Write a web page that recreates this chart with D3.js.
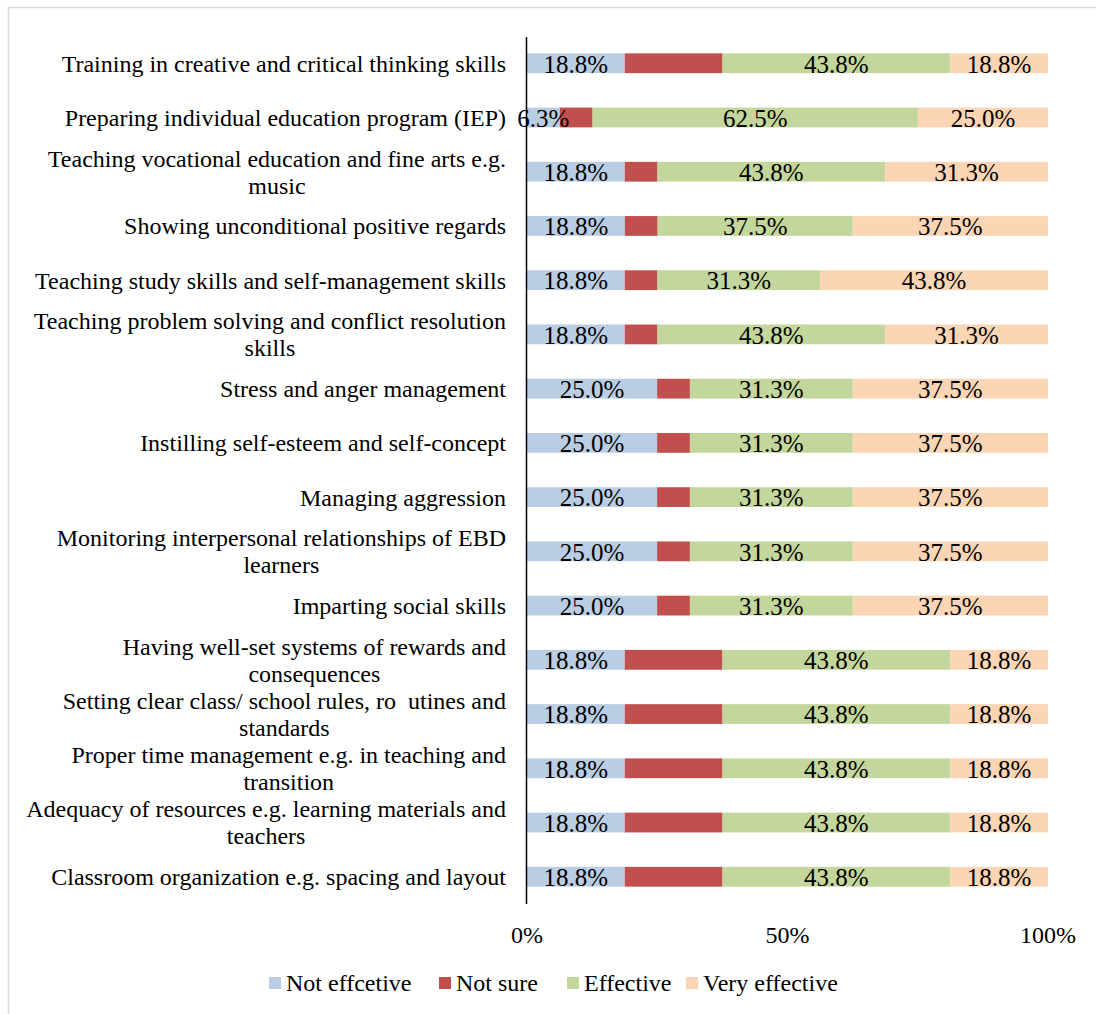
<!DOCTYPE html>
<html>
<head>
<meta charset="utf-8">
<script src="https://cdn.jsdelivr.net/npm/d3@7"></script>
<style>
  html, body { margin: 0; padding: 0; background: #fff; }
  svg { display: block; font-family: 'Liberation Serif', 'Times New Roman', serif; }
  text { white-space: pre; }
</style>
</head>
<body>
<div id="chart"></div>
<script>
const categories = [
  'Training in creative and critical thinking skills',
  'Preparing individual education program (IEP)',
  'Teaching vocational education and fine arts e.g.\nmusic',
  'Showing unconditional positive regards',
  'Teaching study skills and self-management skills',
  'Teaching problem solving and conflict resolution\nskills',
  'Stress and anger management',
  'Instilling self-esteem and self-concept',
  'Managing aggression',
  'Monitoring interpersonal relationships of EBD\nlearners',
  'Imparting social skills',
  'Having well-set systems of rewards and\nconsequences',
  'Setting clear class/ school rules, ro  utines and\nstandards',
  'Proper time management e.g. in teaching and\ntransition',
  'Adequacy of resources e.g. learning materials and\nteachers',
  'Classroom organization e.g. spacing and layout'
]

const seriesNames = ['Not effcetive', 'Not sure', 'Effective', 'Very effective']
const seriesColors = ['#B9CDE5', '#C0504D', '#C3D69B', '#FCD5B5']
const showLabels = [true, false, true, true]

const notEffective  = [18.8, 6.3, 18.8, 18.8, 18.8, 18.8, 25.0, 25.0, 25.0, 25.0, 25.0, 18.8, 18.8, 18.8, 18.8, 18.8]
const notSure       = [18.8, 6.3, 6.3, 6.3, 6.3, 6.3, 6.3, 6.3, 6.3, 6.3, 6.3, 18.8, 18.8, 18.8, 18.8, 18.8]
const effective     = [43.8, 62.5, 43.8, 37.5, 31.3, 43.8, 31.3, 31.3, 31.3, 31.3, 31.3, 43.8, 43.8, 43.8, 43.8, 43.8]
const veryEffective = [18.8, 25.0, 31.3, 37.5, 43.8, 31.3, 37.5, 37.5, 37.5, 37.5, 37.5, 18.8, 18.8, 18.8, 18.8, 18.8]

const xTicks = [0, 0.5, 1]

const width = 1096
const height = 1014
const marginLeft = 527
const marginRight = 48
const marginTop = 36
const plotHeight = 868

const svg = d3.select('#chart').append('svg')
  .attr('width', width)
  .attr('height', height)

// chart border
svg.append('rect')
  .attr('x', 8.5).attr('y', 7.5)
  .attr('width', 1200).attr('height', 1200)
  .attr('fill', 'none')
  .attr('stroke', '#d9d9d9')
  .attr('stroke-width', 1.5)

const rows = categories.map((c, i) => {
  const vals = [notEffective[i], notSure[i], effective[i], veryEffective[i]]
  const total = d3.sum(vals)
  return { key: c, vals, total }
})

const x = d3.scaleLinear()
  .domain([0, 1])
  .range([marginLeft, width - marginRight])

const y = d3.scaleBand()
  .domain(categories)
  .range([marginTop, marginTop + plotHeight])
  .paddingInner(0.635)
  .paddingOuter(0.32)

const stackData = rows.map(r => {
  let acc = 0
  return r.vals.map((v, s) => {
    const seg = { key: r.key, s, v, x0: acc / r.total, x1: (acc + v) / r.total }
    acc += v
    return seg
  })
}).flat()

const g = svg.append('g')

g.selectAll('rect.seg')
  .data(stackData)
  .enter()
  .append('rect')
  .attr('class', 'seg')
  .attr('x', d => x(d.x0))
  .attr('y', d => y(d.key))
  .attr('width', d => x(d.x1) - x(d.x0))
  .attr('height', y.bandwidth())
  .attr('fill', d => seriesColors[d.s])

g.selectAll('text.val')
  .data(stackData.filter(d => showLabels[d.s]))
  .enter()
  .append('text')
  .attr('class', 'val')
  .attr('x', d => (x(d.x0) + x(d.x1)) / 2)
  .attr('y', d => y(d.key) + y.bandwidth() / 2)
  .attr('dy', '0.37em')
  .attr('text-anchor', 'middle')
  .attr('font-size', 25)
  .attr('fill', '#000')
  .text(d => d.v.toFixed(1) + '%')

// vertical axis line
svg.append('line')
  .attr('x1', marginLeft - 0.5).attr('x2', marginLeft - 0.5)
  .attr('y1', marginTop + 1).attr('y2', marginTop + plotHeight)
  .attr('stroke', '#000')
  .attr('stroke-width', 1.5)

// category labels
const catLabels = svg.selectAll('text.cat')
  .data(categories)
  .enter()
  .append('text')
  .attr('class', 'cat')
  .attr('font-size', 24)
  .attr('fill', '#000')
  .attr('text-anchor', 'middle')

const labelRight = marginLeft - 21
catLabels.each(function (d) {
  const lines = d.split('\n')
  const t = d3.select(this)
  const cy = y(d) + y.bandwidth() / 2
  const lh = 27
  // wrapped lines are centred in a box right-aligned to the axis
  const spans = lines.map((l, i) => t.append('tspan')
    .attr('y', cy + (i - (lines.length - 1) / 2) * lh)
    .attr('dy', '0.35em')
    .text(l))
  const widths = spans.map(s => s.node().getComputedTextLength())
  const maxW = d3.max(widths)
  spans.forEach(s => s.attr('x', labelRight - maxW / 2))
})

// x axis tick labels
svg.selectAll('text.xtick')
  .data(xTicks)
  .enter()
  .append('text')
  .attr('class', 'xtick')
  .attr('x', d => x(d))
  .attr('y', 935)
  .attr('dy', '0.35em')
  .attr('text-anchor', 'middle')
  .attr('font-size', 24)
  .text(d3.format('.0%'))

// legend
const legendX = [269, 439, 567, 686]
const legend = svg.selectAll('g.legend')
  .data(seriesNames)
  .enter()
  .append('g')
  .attr('class', 'legend')
  .attr('transform', (d, i) => 'translate(' + [legendX[i], 983] + ')')

legend.append('rect')
  .attr('x', 0).attr('y', -6)
  .attr('width', 12).attr('height', 12)
  .attr('fill', (d, i) => seriesColors[i])

legend.append('text')
  .attr('x', 17)
  .attr('y', 0)
  .attr('dy', '0.35em')
  .attr('font-size', 24)
  .text(d => d)
</script>
</body>
</html>
